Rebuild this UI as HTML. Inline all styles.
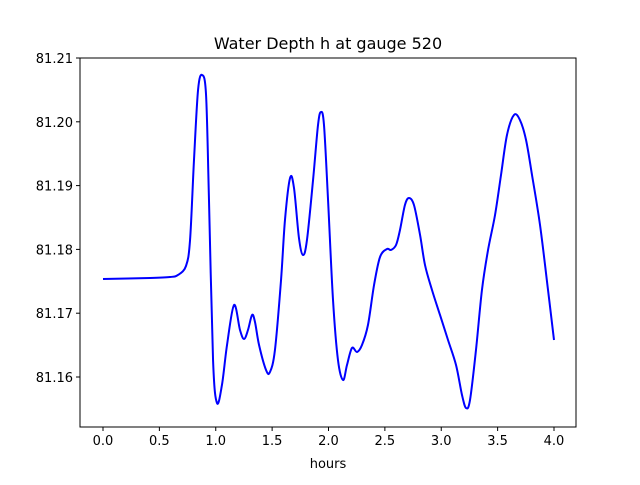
<!DOCTYPE html>
<html><head><meta charset="utf-8"><style>
body{margin:0;background:#fff;}
svg{font-family:"DejaVu Sans","Liberation Sans",sans-serif;}
</style></head><body>
<svg id="chart" width="640" height="480" viewBox="0 0 640 480">
<rect width="640" height="480" fill="#fff"/>
<text x="328" y="49" text-anchor="middle" font-size="16">Water Depth h at gauge 520</text>
<g id="plot"></g>
<text x="328" y="468" text-anchor="middle" font-size="13">hours</text>
</svg>
<script>
const hours=[0,0.417,0.594,0.665,0.736,0.772,0.807,0.843,0.878,0.914,0.940,0.976,1.011,1.055,1.100,1.162,1.215,1.251,1.286,1.322,1.348,1.384,1.446,1.481,1.525,1.579,1.614,1.659,1.694,1.738,1.774,1.809,1.863,1.907,1.933,1.960,1.996,2.040,2.084,2.129,2.164,2.208,2.253,2.297,2.350,2.404,2.457,2.519,2.554,2.599,2.634,2.678,2.714,2.758,2.812,2.856,2.918,2.989,3.060,3.131,3.184,3.220,3.255,3.308,3.361,3.415,3.477,3.530,3.583,3.645,3.698,3.752,3.805,3.876,3.947,4.0];
const depth=[81.17536,81.17552,81.17567,81.17599,81.17740,81.18147,81.19401,81.20498,81.20734,81.20420,81.18774,81.16266,81.15592,81.15875,81.16502,81.17129,81.16737,81.16596,81.16737,81.16972,81.16862,81.16502,81.16110,81.16078,81.16423,81.17520,81.18461,81.19119,81.18962,81.18179,81.17912,81.18147,81.19088,81.19950,81.20154,81.19950,81.18774,81.17207,81.16266,81.15953,81.16188,81.16455,81.16392,81.16502,81.16815,81.17442,81.17881,81.18006,81.17991,81.18069,81.18304,81.18696,81.18806,81.18696,81.18226,81.17755,81.17364,81.16972,81.16580,81.16188,81.15718,81.15514,81.15639,81.16423,81.17364,81.17991,81.18539,81.19166,81.19793,81.20107,81.20028,81.19715,81.19166,81.18382,81.17364,81.16580];
const xTicks=[0,0.5,1,1.5,2,2.5,3,3.5,4];
const xTickLabels=["0.0","0.5","1.0","1.5","2.0","2.5","3.0","3.5","4.0"];
const yTicks=[81.16,81.17,81.18,81.19,81.20,81.21];
const yTickLabels=["81.16","81.17","81.18","81.19","81.20","81.21"];

const L=80,R=576,T=58,B=427;
const x=h=>103+h*(554-103)/4;
const y=v=>T+(81.21-v)*6380;
const NS="http://www.w3.org/2000/svg";
const g=document.getElementById('plot');
function mk(tag,attrs){const e=document.createElementNS(NS,tag);for(const k in attrs)e.setAttribute(k,attrs[k]);return e;}

// line
const px=hours.map(x), py=depth.map(y);
let d=`M${px[0]},${py[0]}`;
for(let i=0;i<px.length-1;i++){
  const i0=Math.max(0,i-1),i3=Math.min(px.length-1,i+2);
  const c1x=px[i]+(px[i+1]-px[i0])/6,c1y=py[i]+(py[i+1]-py[i0])/6;
  const c2x=px[i+1]-(px[i3]-px[i])/6,c2y=py[i+1]-(py[i3]-py[i])/6;
  d+=` C${c1x},${c1y} ${c2x},${c2y} ${px[i+1]},${py[i+1]}`;
}
const line=mk('path',{d:d,fill:'none',stroke:'#0000ff','stroke-width':2,'stroke-linejoin':'round'});


g.appendChild(line);

// frame
const frame=mk('rect',{x:L,y:T,width:R-L,height:B-T,fill:'none',stroke:'#000','stroke-width':1});


g.appendChild(frame);

xTicks.forEach((t,i)=>{
  const tk=mk('line',{x1:x(t),x2:x(t),y1:B,y2:B+4,stroke:'#000'});
  
  
  g.appendChild(tk);
  const lb=mk('text',{x:x(t),y:B+18,'text-anchor':'middle','font-size':13});
  
  
  lb.textContent=xTickLabels[i];g.appendChild(lb);
});
yTicks.forEach((t,i)=>{
  const tk=mk('line',{x1:L-4,x2:L,y1:y(t),y2:y(t),stroke:'#000'});
  
  
  g.appendChild(tk);
  const lb=mk('text',{x:L-7,y:y(t)+5,'text-anchor':'end','font-size':13});
  
  
  lb.textContent=yTickLabels[i];g.appendChild(lb);
});
</script>
</body></html>
